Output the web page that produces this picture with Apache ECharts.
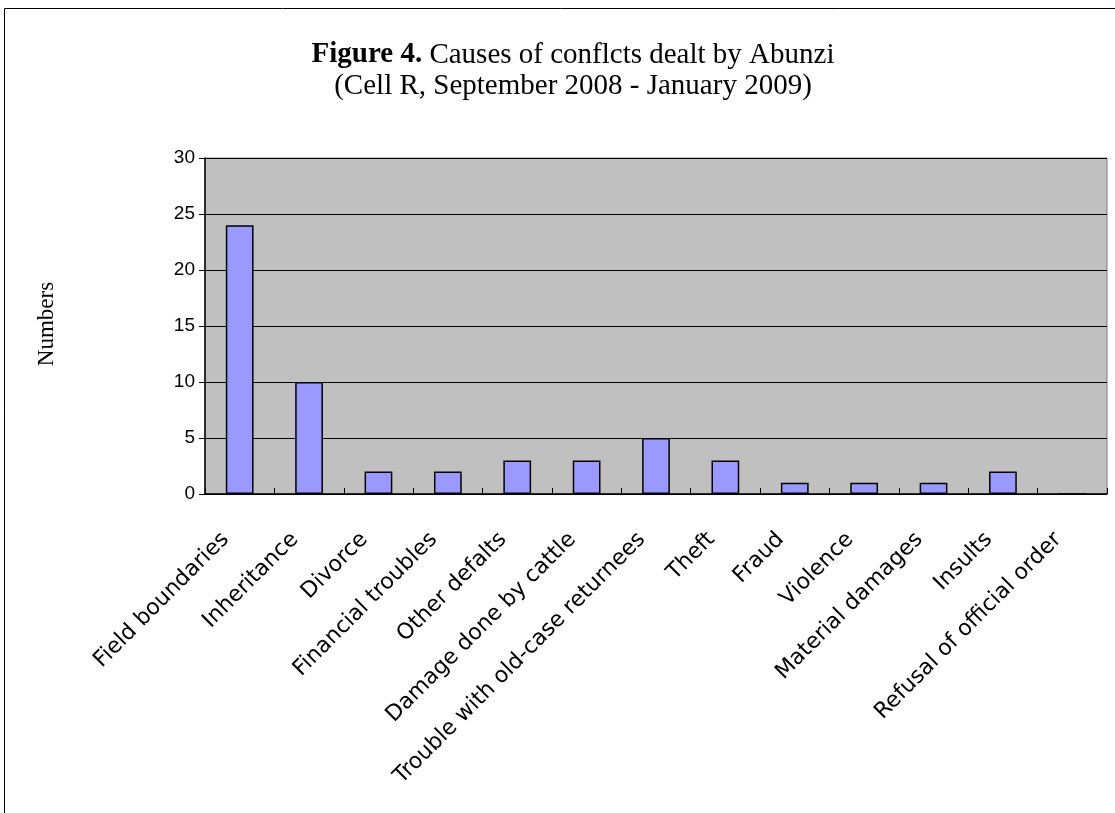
<!DOCTYPE html>
<html><head><meta charset="utf-8">
<script src="https://cdn.jsdelivr.net/npm/echarts@6/dist/echarts.min.js"></script>
<style>html,body{margin:0;padding:0;background:#fff}#c{width:1115px;height:813px}</style>
</head><body><div id="c"></div>
<script>
const categories = ["Field boundaries","Inheritance","Divorce","Financial troubles","Other defalts","Damage done by cattle","Trouble with old-case returnees","Theft","Fraud","Violence","Material damages","Insults","Refusal of official order"];
const values = [24,10,2,2,3,3,5,3,1,1,1,2,0];
const yTicks = [0,5,10,15,20,25,30];

const serif = '"Liberation Serif", "Times New Roman", serif';
const chart = echarts.init(document.getElementById('c'), null, {renderer:'canvas'});
chart.setOption({
  animation:false,
  backgroundColor:'#ffffff',
  graphic:[
    {type:'rect', shape:{x:4.5,y:8.5,width:1200,height:900}, style:{fill:'none',stroke:'#000',lineWidth:1}, silent:true},
    {type:'text', x:573, y:55, style:{text:'{b|Figure 4.} Causes of conflcts dealt by Abunzi',
      font:'29px '+serif, fill:'#000', align:'center', verticalAlign:'middle',
      rich:{b:{fontFamily:serif,fontSize:29,fontWeight:'bold',fill:'#000'}}}, silent:true},
    {type:'text', x:573, y:86, style:{text:'(Cell R, September 2008 - January 2009)',
      font:'29px '+serif, fill:'#000', align:'center', verticalAlign:'middle'}, silent:true},
    {type:'text', x:47, y:324, rotation:Math.PI/2, style:{text:'Numbers',font:'23px '+serif,fill:'#000',align:'center',verticalAlign:'middle'}, silent:true}
  ],
  grid:{left:205,top:158,width:902,height:336,show:true,backgroundColor:'#c0c0c0',borderColor:'#808080',borderWidth:1,containLabel:false},
  xAxis:{
    type:'category', data:categories, boundaryGap:true,
    axisLine:{show:true,lineStyle:{color:'#000',width:1.5}},
    axisTick:{show:true,inside:true,length:6,alignWithLabel:false,lineStyle:{color:'#000'}},
    axisLabel:{interval:0,rotate:45,margin:28,padding:[0,20,0,0],fontFamily:'"DejaVu Sans", sans-serif',fontSize:22,color:'#000'}
  },
  yAxis:{
    type:'value', min:0, max:30, interval:5,
    axisLine:{show:true,lineStyle:{color:'#000',width:1.5}},
    axisTick:{show:true,inside:false,length:6,lineStyle:{color:'#000'}},
    axisLabel:{margin:10,fontFamily:'"Liberation Sans", Arial, sans-serif',fontSize:19,color:'#000',
      formatter:function(v){return yTicks.indexOf(v)>=0?String(v):'';}},
    splitLine:{show:true,lineStyle:{color:'#000',width:1}}
  },
  series:[{
    type:'bar', data:values, barWidth:'40%',
    itemStyle:{color:'#9999ff',borderColor:'#000',borderWidth:1.5}
  }]
});
</script></body></html>
